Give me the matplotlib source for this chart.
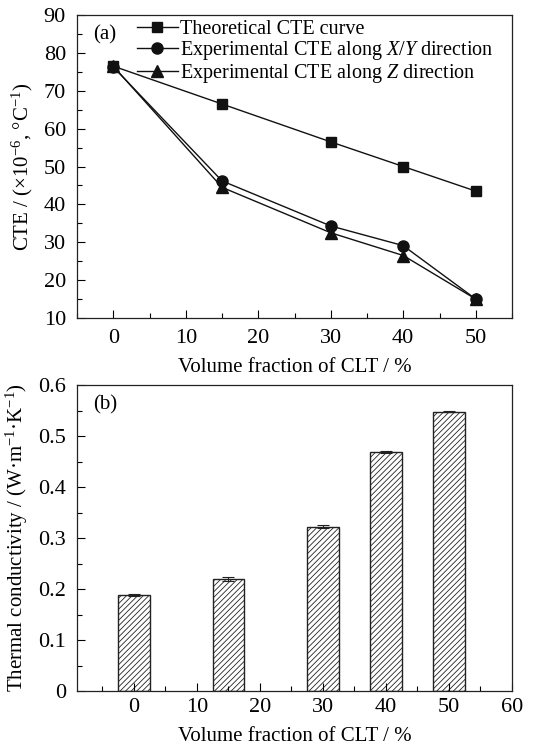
import matplotlib
matplotlib.use("Agg")
import matplotlib.pyplot as plt
from matplotlib.ticker import MultipleLocator

plt.rcParams['font.family'] = ['Liberation Serif', 'DejaVu Serif']
plt.rcParams['mathtext.fontset'] = 'custom'
plt.rcParams['mathtext.rm'] = 'Liberation Serif'
plt.rcParams['mathtext.it'] = 'Liberation Serif:italic'
plt.rcParams['hatch.linewidth'] = 0.6

fraction = [0, 15, 30, 40, 50]
cte_theory = [76.5, 66.5, 56.5, 50.0, 43.5]
cte_xy = [76.3, 46.2, 34.3, 29.1, 15.0]
cte_z = [76.5, 44.5, 32.5, 26.5, 15.0]
series_labels = ["Theoretical CTE curve",
                 "Experimental CTE along $\\it{X}$/$\\it{Y}$ direction",
                 "Experimental CTE along $\\it{Z}$ direction"]

tc_values = [0.188, 0.219, 0.322, 0.468, 0.548]
tc_err = [0.002, 0.004, 0.003, 0.002, 0.001]
tc_yticks = [0, 0.1, 0.2, 0.3, 0.4, 0.5, 0.6]
tc_ylabels = ["0", "0.1", "0.2", "0.3", "0.4", "0.5", "0.6"]

fig = plt.figure(figsize=(5.47, 7.47), dpi=100)
W, H = 547, 747
ax1 = fig.add_axes([77 / W, 1 - 318 / H, 435 / W, 303 / H])
ax2 = fig.add_axes([77 / W, 1 - 691 / H, 435 / W, 306 / H])

fs = 15
tfs = 16
ax1.plot(fraction, cte_theory, '-s', color='#111', lw=1.0, ms=7.5, label=series_labels[0])
ax1.plot(fraction, cte_xy, '-o', color='#111', lw=1.0, ms=8, label=series_labels[1])
ax1.plot(fraction, cte_z, '-^', color='#111', lw=1.0, ms=8, label=series_labels[2])
ax1.set_xlim(-5, 55)
ax1.set_ylim(10, 90)
ax1.xaxis.set_minor_locator(MultipleLocator(5))
ax1.yaxis.set_major_locator(MultipleLocator(10))
ax1.yaxis.set_minor_locator(MultipleLocator(5))
ax1.set_xticks([0, 10, 20, 30, 40, 50])
ax1.set_xlabel("Volume fraction of CLT / %", fontsize=fs, labelpad=7)
ax1.set_ylabel("CTE / (×10$^{-6}$, °C$^{-1}$)", fontsize=fs, labelpad=6)
ax1.text(0.036, 0.965, "(a)", transform=ax1.transAxes, fontsize=fs, va='top', ha='left')
leg = ax1.legend(loc='upper left', bbox_to_anchor=(0.12, 1.01), frameon=False,
                 fontsize=14.5, handlelength=2.0, handletextpad=0.12, labelspacing=0.0,
                 borderaxespad=0.0)

ax2.bar(fraction, tc_values, width=5, color='white', edgecolor='#222', hatch='//////',
        linewidth=1.0, yerr=tc_err, capsize=4, error_kw=dict(ecolor='#222', elinewidth=0.8, capthick=0.8))
ax2.set_xlim(-9, 60)
ax2.set_ylim(0, 0.6)
ax2.set_xticks([0, 10, 20, 30, 40, 50, 60])
ax2.xaxis.set_minor_locator(MultipleLocator(5))
ax2.set_yticks(tc_yticks)
ax2.set_yticklabels(tc_ylabels)
ax2.yaxis.set_minor_locator(MultipleLocator(0.05))
ax2.set_xlabel("Volume fraction of CLT / %", fontsize=fs, labelpad=7)
ax2.set_ylabel("Thermal conductivity / (W·m$^{-1}$·K$^{-1}$)", fontsize=fs, labelpad=6)
ax2.text(0.036, 0.965, "(b)", transform=ax2.transAxes, fontsize=fs, va='top', ha='left')

for ax in (ax1, ax2):
    ax.tick_params(which='both', direction='in', top=False, right=False, labelsize=tfs, pad=8)
    ax.tick_params(which='major', length=6, width=0.8)
    ax.tick_params(which='minor', length=3.6, width=0.8)
    for s in ax.spines.values():
        s.set_linewidth(0.9)
        s.set_color('#222')
ax2.tick_params(axis='x', which='both', pad=5)

fig.savefig("out.png", dpi=100)
